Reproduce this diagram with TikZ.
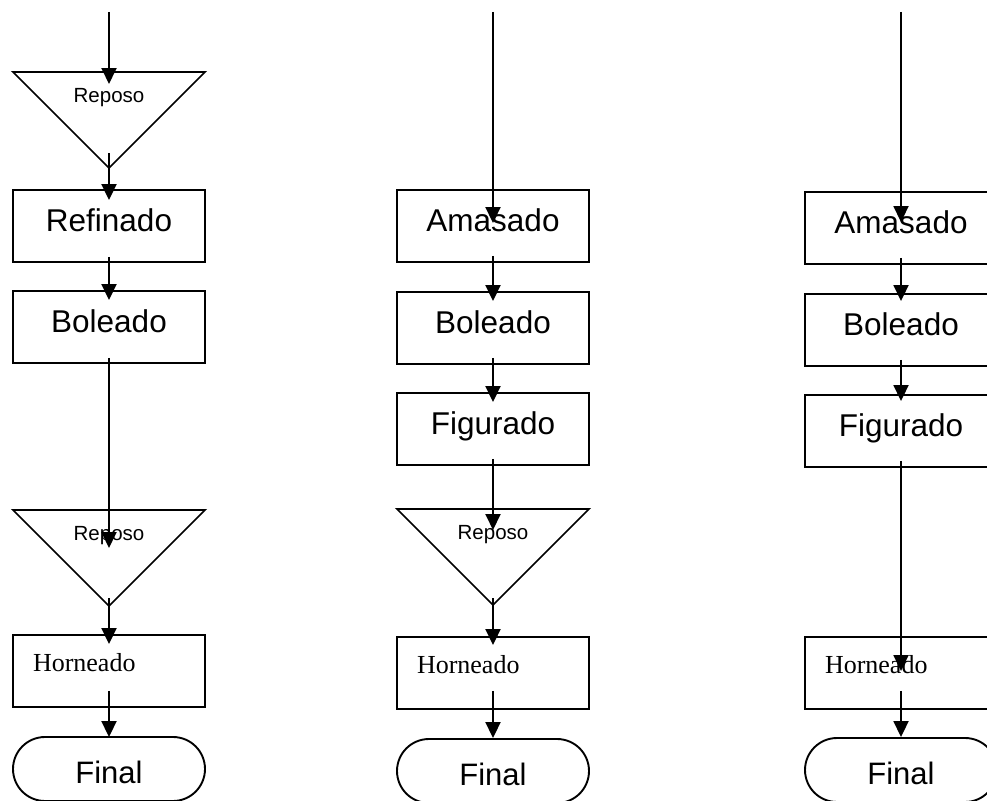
\documentclass[tikz,border=0pt]{standalone}
\usepackage{fontspec}
\usetikzlibrary{arrows.meta,calc}
\newfontfamily\arialf{Liberation Sans}
\newfontfamily\timesf{Liberation Serif}
\tikzset{>={Triangle[width=15pt,length=16pt]},every node/.style={inner sep=0pt},
  flow/.style={line width=1.9pt,->},edge/.style={line width=1.7pt},
  stepbox/.style={draw,line width=1.9pt,minimum width=192pt,minimum height=72pt,
    font=\arialf\fontsize{31.5}{36}\selectfont,text height=22pt,text depth=12pt},
  bakebox/.style={stepbox,font=\timesf\fontsize{26}{30}\selectfont,text height=14pt,
    text depth=13pt,text width=152pt,inner xsep=20pt,align=left},
  endbox/.style={draw,line width=1.9pt,rounded corners=32pt,minimum width=192pt,minimum height=64pt,
    font=\arialf\fontsize{31}{36}\selectfont,text height=28pt,text depth=0pt},
  restext/.style={font=\arialf\fontsize{20.5}{24}\selectfont}}
% triangle: name, x, y of the top side
\newcommand{\reposo}[3]{\coordinate (#1) at (#2,#3);\coordinate (#1-apex) at ($(#1)+(0,96)$);
  \draw[edge] ($(#1)+(-96,0)$)--($(#1)+(96,0)$)--(#1-apex)--cycle;
  \node[restext,anchor=base] (#1-txt) at ($(#1)+(0,30)$){Reposo};}

\begin{document}
\begin{tikzpicture}[x=1pt,y=-1pt]
\path[use as bounding box,clip] (0,0) rectangle (987,800);
% left column
\coordinate (in1) at (109,12);\reposo{r1}{109}{72}
\node[stepbox] (ref1) at (109,226){Refinado};
\node[stepbox] (bol1) at (109,327){Boleado};
\reposo{r2}{109}{510}
\node[bakebox] (hor1) at (109,671){Horneado};
\node[endbox] (fin1) at (109,769){Final};
\draw[flow] (in1)--([yshift=-12pt]r1);\draw[flow] ([yshift=15pt]r1-apex)--([yshift=-11pt]ref1.north);
\draw[flow] ([yshift=6pt]ref1.south)--([yshift=-10pt]bol1.north);
\draw[flow] ([yshift=6pt]bol1.south)--([yshift=-38pt]r2);
\draw[flow] ([yshift=8pt]r2-apex)--([yshift=-10pt]hor1.north);
\draw[flow] ([yshift=17pt]hor1.south)--([yshift=-1pt]fin1.north);
% middle column
\coordinate (in2) at (493,12);
\node[stepbox] (ama2) at (493,226){Amasado};
\node[stepbox] (bol2) at (493,328){Boleado};
\node[stepbox] (fig2) at (493,429){Figurado};
\reposo{r3}{493}{509}
\node[bakebox] (hor2) at (493,673){Horneado};
\node[endbox] (fin2) at (493,771){Final};
\draw[flow] (in2)--([yshift=-34pt]ama2.north);
\draw[flow] ([yshift=7pt]ama2.south)--([yshift=-10pt]bol2.north);
\draw[flow] ([yshift=7pt]bol2.south)--([yshift=-10pt]fig2.north);
\draw[flow] ([yshift=7pt]fig2.south)--([yshift=-21pt]r3);
\draw[flow] ([yshift=7pt]r3-apex)--([yshift=-9pt]hor2.north);
\draw[flow] ([yshift=19pt]hor2.south)--(fin2.north);
% right column
\coordinate (in3) at (901,12);
\node[stepbox] (ama3) at (901,228){Amasado};
\node[stepbox] (bol3) at (901,330){Boleado};
\node[stepbox] (fig3) at (901,431){Figurado};
\node[bakebox] (hor3) at (901,673){Horneado};
\node[endbox] (fin3) at (901,770){Final};
\draw[flow] (in3)--([yshift=-31pt]ama3.north);
\draw[flow] ([yshift=7pt]ama3.south)--([yshift=-8pt]bol3.north);
\draw[flow] ([yshift=7pt]bol3.south)--([yshift=-7pt]fig3.north);
\draw[flow] ([yshift=7pt]fig3.south)--([yshift=-35pt]hor3.north);
\draw[flow] ([yshift=19pt]hor3.south)--(fin3.north);
\end{tikzpicture}
\end{document}
